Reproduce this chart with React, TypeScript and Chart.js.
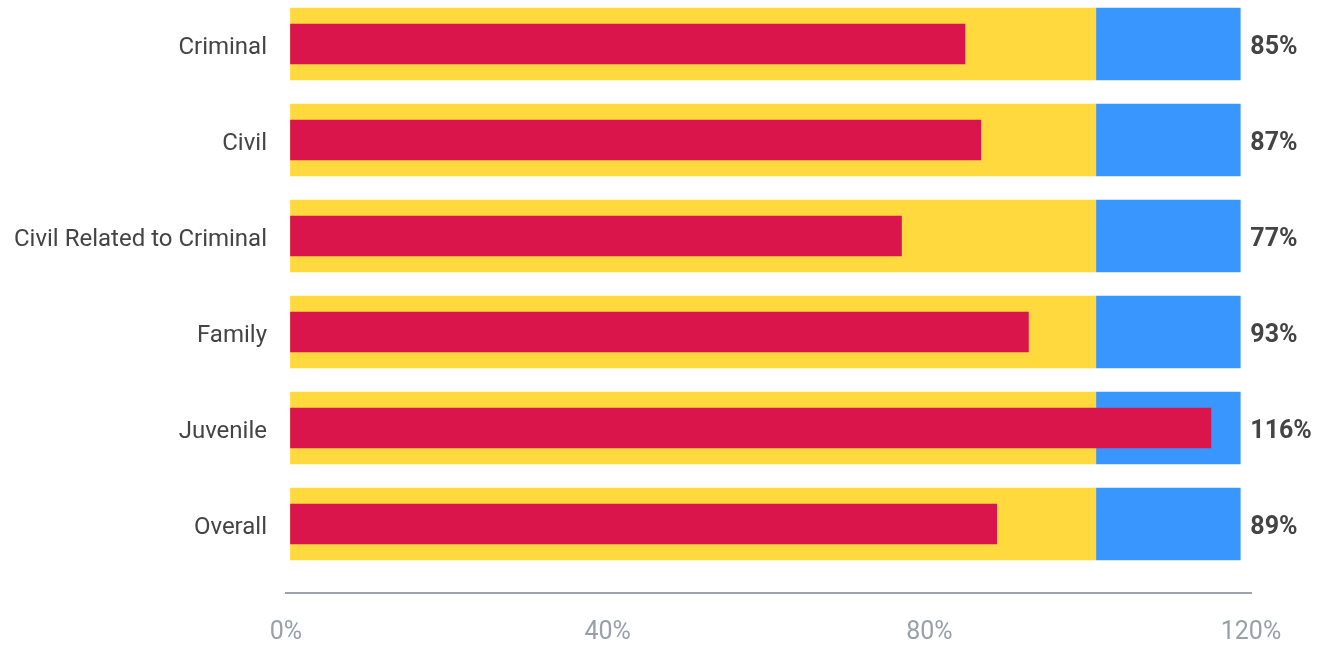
import React, { useEffect, useRef } from "react";
import { Chart, registerables } from "chart.js";

Chart.register(...registerables);

const categories = [
  "Criminal",
  "Civil",
  "Civil Related to Criminal",
  "Family",
  "Juvenile",
  "Overall",
];
const actualValues = [85, 87, 77, 93, 116, 89];
const yellowBandEnd = [101.5, 101.5, 101.5, 101.5, 101.5, 101.5];
const blueBandEnd = [119.7, 119.7, 119.7, 119.7, 119.7, 119.7];
const tickValues = [0, 40, 80, 120];

const FONT = "Roboto";
const RED = "#DA154B";
const YELLOW = "#FFD93D";
const BLUE = "#3A96FF";

export default function App() {
  const ref = useRef<HTMLCanvasElement>(null);

  useEffect(() => {
    if (!ref.current) return;
    const labelPlugin = {
      id: "valueLabels",
      afterDatasetsDraw(chart: any) {
        const { ctx, scales } = chart;
        const xs = scales.x;
        const ys = scales.y;
        ctx.save();
        ctx.font = `bold 25px ${FONT}`;
        ctx.fillStyle = "#444444";
        ctx.textAlign = "left";
        ctx.textBaseline = "middle";
        categories.forEach((_, i) => {
          ctx.fillText(
            `${actualValues[i]}%`,
            xs.getPixelForValue(blueBandEnd[i]) + 10,
            ys.getPixelForValue(i) + 4
          );
        });
        ctx.restore();
      },
    };

    const chart = new Chart(ref.current, {
      type: "bar",
      data: {
        datasets: [
          {
            label: "Actual",
            data: categories.map((_, i) => ({ y: i, x: actualValues[i] })),
            backgroundColor: RED,
            barThickness: 40,
            grouped: false,
            xAxisID: "x",
            yAxisID: "y",
          },
          {
            label: "Target",
            data: categories.map((_, i) => ({ y: i, x: [0, yellowBandEnd[i]] })),
            backgroundColor: YELLOW,
            barThickness: 72,
            grouped: false,
            xAxisID: "x",
            yAxisID: "y",
          },
          {
            label: "Above target",
            data: categories.map((_, i) => ({
              y: i,
              x: [yellowBandEnd[i], blueBandEnd[i]],
            })),
            backgroundColor: BLUE,
            barThickness: 72,
            grouped: false,
            xAxisID: "x",
            yAxisID: "y",
          },
        ] as any,
      },
      options: {
        indexAxis: "y",
        responsive: false,
        animation: false,
        layout: { padding: { left: 0, right: 69, top: 0, bottom: 0 } },
        plugins: {
          legend: { display: false },
          tooltip: { enabled: false },
        },
        scales: {
          y: {
            type: "linear",
            reverse: true,
            offset: false,
            min: -0.458,
            max: 5.719,
            afterBuildTicks: (s: any) => {
              s.ticks = categories.map((_, i) => ({ value: i }));
            },
            afterFit: (s: any) => {
              s.width = 286;
              s.paddingTop = 0;
              s.paddingBottom = 0;
            },
            ticks: {
              autoSkip: false,
              callback: (v: any) => categories[v as number],
              font: { family: FONT, size: 24 },
              color: "#444444",
              padding: 19,
              labelOffset: 4,
            },
            grid: { display: false, drawTicks: false },
            border: { display: false },
          },
          x: {
            type: "linear",
            display: false,
            min: -0.567,
            max: 121.05,
          },
          xAxis: {
            type: "linear",
            position: "bottom",
            min: 0,
            max: 120,
            afterBuildTicks: (s: any) => {
              s.ticks = tickValues.map((v) => ({ value: v }));
            },
            afterFit: (s: any) => {
              s.height = 55;
            },
            ticks: {
              callback: (v: any) => `${v}%`,
              font: { family: FONT, size: 25 },
              color: "#98A1A8",
              padding: 25,
            },
            grid: { display: false, drawTicks: false },
            border: { display: true, color: "#9EA4A9", width: 2 },
          },
        } as any,
      },
      plugins: [labelPlugin],
    });
    return () => chart.destroy();
  }, []);

  return (
    <div style={{ position: "fixed", left: 0, top: 0, width: 1320, height: 648 }}>
      <canvas ref={ref} width={1320} height={648} style={{ display: "block" }} />
    </div>
  );
}
